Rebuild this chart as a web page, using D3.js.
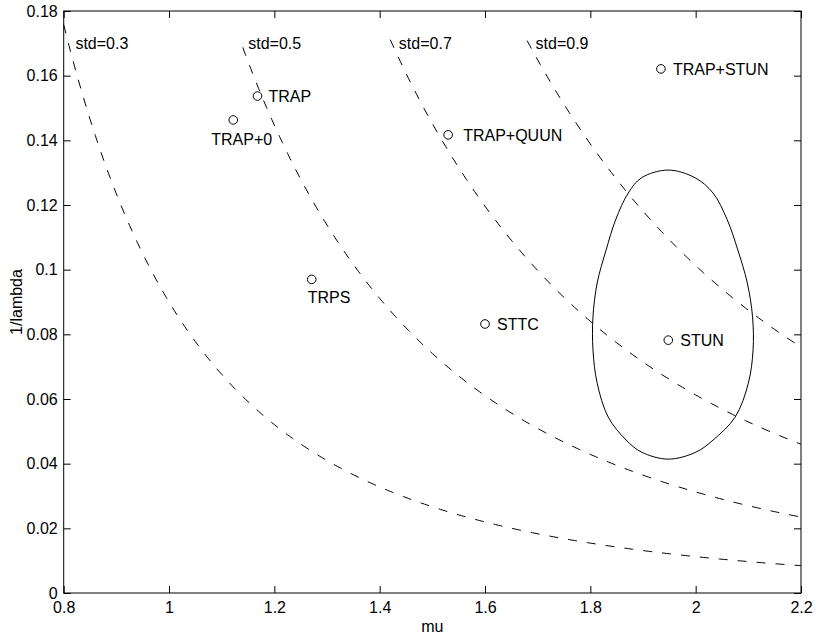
<!DOCTYPE html>
<html>
<head>
<meta charset="utf-8">
<script src="https://cdn.jsdelivr.net/npm/d3@7"></script>
<style>
  body { margin: 0; background: #fff; }
  svg text { font-family: "Liberation Sans", Arial, Helvetica, sans-serif; }
</style>
</head>
<body>
<div id="chart"></div>
<script>
// models: mean (mu) and 1/lambda
var names = ["TRAP", "TRAP+0", "TRAP+QUUN", "TRAP+STUN", "TRPS", "STTC", "STUN"];
var mus = [1.168, 1.122, 1.530, 1.934, 1.271, 1.600, 1.948];
var invLambdas = [0.1537, 0.1463, 0.1417, 0.1621, 0.0970, 0.0832, 0.0782];

// iso-std curves, std^2 = mu^3 / lambda
var stdLevels = [0.3, 0.5, 0.7, 0.9];
var curveStartMu = [0.8, 1.14, 1.42, 1.68];
var stdLabelLevel = 0.17;

// confidence region round STUN (clockwise from top)
var regionMu = [1.948, 1.999, 2.033, 2.060, 2.080, 2.098, 2.108, 2.109, 2.100, 2.075, 2.033, 2.001,
                1.948, 1.897, 1.868, 1.834, 1.813, 1.805, 1.805, 1.813, 1.830, 1.848, 1.872, 1.897];
var regionInvLambda = [0.1308, 0.1284, 0.1237, 0.1154, 0.1061, 0.0959, 0.0854, 0.0752, 0.0649, 0.0544, 0.0473, 0.0436,
                       0.0414, 0.0436, 0.0473, 0.0544, 0.0649, 0.0752, 0.0854, 0.0959, 0.1061, 0.1154, 0.1237, 0.1284];

var xTicks = [0.8, 1, 1.2, 1.4, 1.6, 1.8, 2, 2.2];
var yTicks = [0, 0.02, 0.04, 0.06, 0.08, 0.1, 0.12, 0.14, 0.16, 0.18];

// label offsets in px (dx, dy of baseline)
var labelPos = {
  "TRAP": [11, 6], "TRAP+0": [-22, 25], "TRAP+QUUN": [15, 6], "TRAP+STUN": [12, 6],
  "TRPS": [-4, 24], "STTC": [12, 6], "STUN": [12, 6]
};

var width = 816, height = 637;
var plotLeft = 63.7, plotRight = 801, plotTop = 11, plotBottom = 593;
var fontSize = 16;

var svg = d3.select("#chart").append("svg")
  .attr("width", width)
  .attr("height", height);

var x = d3.scaleLinear().domain([0.8, 2.2]).range([plotLeft, plotRight]);
var y = d3.scaleLinear().domain([0, 0.18]).range([plotBottom, plotTop]);

var fmt = function(d) { return String(+d.toFixed(2)); };

function styleAxis(g) {
  g.attr("font-size", fontSize).attr("font-family", null);
  g.select(".domain").remove();
  g.selectAll(".tick line").attr("stroke", "#000");
  g.selectAll(".tick text").attr("fill", "#000");
}

svg.append("g")
  .attr("transform", "translate(0," + plotBottom + ")")
  .call(d3.axisBottom(x).tickValues(xTicks).tickFormat(fmt).tickSize(-7).tickPadding(9))
  .call(styleAxis);
svg.append("g")
  .attr("transform", "translate(0," + plotTop + ")")
  .call(d3.axisTop(x).tickValues(xTicks).tickFormat("").tickSize(-7))
  .call(styleAxis);
svg.append("g")
  .attr("transform", "translate(" + plotLeft + ",0)")
  .call(d3.axisLeft(y).tickValues(yTicks).tickFormat(fmt).tickSize(-7).tickPadding(6))
  .call(styleAxis);
svg.append("g")
  .attr("transform", "translate(" + plotRight + ",0)")
  .call(d3.axisRight(y).tickValues(yTicks).tickFormat("").tickSize(-7))
  .call(styleAxis);

svg.append("rect")
  .attr("x", plotLeft).attr("y", plotTop)
  .attr("width", plotRight - plotLeft).attr("height", plotBottom - plotTop)
  .attr("fill", "none").attr("stroke", "#000").attr("stroke-width", 1);

// dashed iso-std curves
var line = d3.line()
  .x(function(d) { return x(d[0]); })
  .y(function(d) { return y(d[1]); });

stdLevels.forEach(function(s, i) {
  var pts = d3.range(curveStartMu[i], 2.2001, 0.005).map(function(m) {
    return [m, s * s / Math.pow(m, 3)];
  });
  svg.append("path")
    .attr("d", line(pts))
    .attr("fill", "none")
    .attr("stroke", "#000")
    .attr("stroke-width", 1)
    .attr("stroke-dasharray", "9,10");

  var lm = Math.pow(s * s / stdLabelLevel, 1 / 3);
  svg.append("text")
    .attr("x", x(lm) + 7)
    .attr("y", y(stdLabelLevel) + 6)
    .attr("font-size", fontSize)
    .text("std=" + s);
});

// confidence region
var region = regionMu.map(function(m, i) { return [m, regionInvLambda[i]]; });
svg.append("path")
  .attr("d", d3.line()
    .x(function(d) { return x(d[0]); })
    .y(function(d) { return y(d[1]); })
    .curve(d3.curveCatmullRomClosed.alpha(0.5))(region))
  .attr("fill", "none")
  .attr("stroke", "#000")
  .attr("stroke-width", 1);

// model points
names.forEach(function(n, i) {
  var cx = x(mus[i]), cy = y(invLambdas[i]);
  svg.append("circle")
    .attr("cx", cx).attr("cy", cy).attr("r", 4.3)
    .attr("fill", "none").attr("stroke", "#000").attr("stroke-width", 1);
  svg.append("text")
    .attr("x", cx + labelPos[n][0])
    .attr("y", cy + labelPos[n][1])
    .attr("font-size", fontSize)
    .text(n);
});

// axis titles
svg.append("text")
  .attr("x", (plotLeft + plotRight) / 2)
  .attr("y", 632)
  .attr("text-anchor", "middle")
  .attr("font-size", fontSize)
  .text("mu");
svg.append("text")
  .attr("transform", "translate(22," + ((plotTop + plotBottom) / 2) + ") rotate(-90)")
  .attr("text-anchor", "middle")
  .attr("font-size", fontSize)
  .text("1/lambda");
</script>
</body>
</html>
